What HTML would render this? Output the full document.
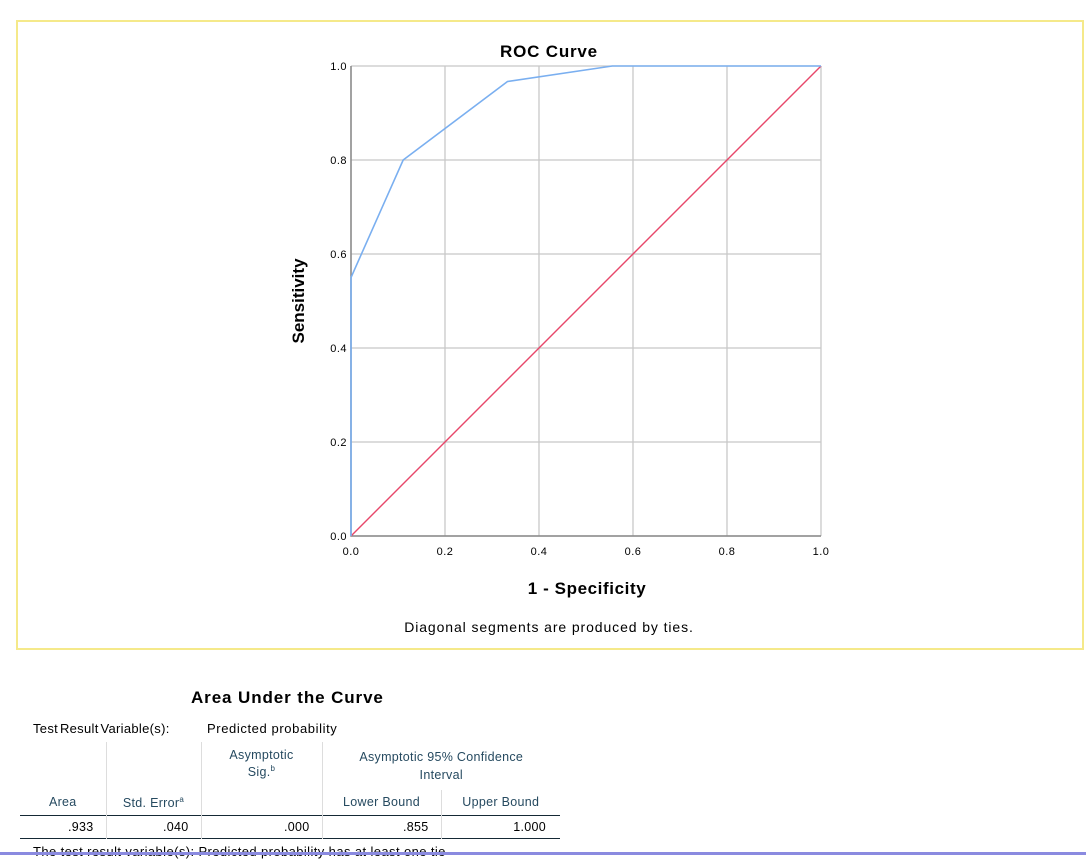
<!DOCTYPE html>
<html><head><meta charset="utf-8"><style>
body{margin:0;width:1086px;height:855px;background:#fff;font-family:"Liberation Sans",Arial,sans-serif;position:relative;overflow:hidden}
.frame{position:absolute;left:16px;top:20px;width:1064px;height:626px;border:2px solid #f5e98a;box-sizing:content-box}
table{border-collapse:collapse;font-size:12.5px;table-layout:fixed;letter-spacing:0.3px}
td{padding:0}
</style></head><body>
<div class="frame"></div>
<svg id="chart" width="1086" height="660" style="position:absolute;left:0;top:0">
<text x="549" y="57" text-anchor="middle" font-size="17" font-weight="bold" letter-spacing="0.8">ROC Curve</text>
<text x="587" y="594" text-anchor="middle" font-size="17" font-weight="bold" letter-spacing="0.6">1 - Specificity</text>
<text transform="translate(304,301) rotate(-90)" text-anchor="middle" font-size="17" font-weight="bold">Sensitivity</text>
<text x="549" y="632" text-anchor="middle" font-size="14" letter-spacing="0.9">Diagonal segments are produced by ties.</text>
<g id="grid"></g><g id="marks"></g>
</svg>
<div style="position:absolute;left:191px;top:688px;font-size:17px;font-weight:bold;letter-spacing:0.9px">Area Under the Curve</div>
<div style="position:absolute;left:33px;top:721px;font-size:13px;letter-spacing:0.3px;word-spacing:-2px">Test Result Variable(s):</div>
<div style="position:absolute;left:207px;top:721px;font-size:13px;letter-spacing:0.6px">Predicted probability</div>
<table style="position:absolute;left:20px;top:742px;width:540px;color:#264a60">
<colgroup><col style="width:86px"><col style="width:95px"><col style="width:121px"><col style="width:119px"><col style="width:119px"></colgroup>
<tr style="height:48px;vertical-align:top"><td style="border-right:1px solid #ddd"></td><td style="border-right:1px solid #ddd"></td><td style="text-align:center;border-right:1px solid #ddd;padding-top:6px;line-height:14px">Asymptotic<br>Sig.<sup style="font-size:8px">b</sup></td><td colspan="2" style="text-align:center;padding-top:6px;line-height:18px">Asymptotic 95% Confidence<br>Interval</td></tr>
<tr style="height:25px"><td style="text-align:center;border-right:1px solid #ddd">Area</td><td style="text-align:center;border-right:1px solid #ddd">Std. Error<sup style="font-size:8px">a</sup></td><td style="border-right:1px solid #ddd"></td><td style="text-align:center;border-right:1px solid #ddd">Lower Bound</td><td style="text-align:center">Upper Bound</td></tr>
<tr style="height:23px;color:#000;border-top:1px solid #152935;border-bottom:1px solid #152935"><td style="text-align:right;padding-right:12px;border-right:1px solid #ddd">.933</td><td style="text-align:right;padding-right:12px;border-right:1px solid #ddd">.040</td><td style="text-align:right;padding-right:12px;border-right:1px solid #ddd">.000</td><td style="text-align:right;padding-right:12px;border-right:1px solid #ddd">.855</td><td style="text-align:right;padding-right:14px">1.000</td></tr>
</table>
<div style="position:absolute;left:33px;top:844px;font-size:13px;letter-spacing:0.4px">The test result variable(s): Predicted probability has at least one tie</div>
<div style="position:absolute;left:0;top:852px;width:1086px;height:3px;background:#8a8ae0"></div>
<script>
const ticks=[0,0.2,0.4,0.6,0.8,1.0];
const tickLabels=["0.0","0.2","0.4","0.6","0.8","1.0"];
const rocX=[0,0,0.111,0.333,0.556,1];
const rocY=[0,0.55,0.8,0.967,1,1];
const refX=[0,1];const refY=[0,1];
const L=351,R=821,T=66,B=536;
const sx=v=>L+v*(R-L), sy=v=>B-v*(B-T);
const NS="http://www.w3.org/2000/svg";
const g=document.getElementById('grid'), m=document.getElementById('marks');
function mk(tag,at,p){const e=document.createElementNS(NS,tag);for(const k in at)e.setAttribute(k,at[k]);p.appendChild(e);return e;}
ticks.forEach((t,i)=>{
 const v=mk('line',{x1:sx(t),x2:sx(t),y1:T,y2:B,stroke:'#c8c8c8','stroke-width':1.3},g);
 
 
 const h=mk('line',{x1:L,x2:R,y1:sy(t),y2:sy(t),stroke:'#c8c8c8','stroke-width':1.3},g);
 
 
 const xl=mk('text',{x:sx(t),y:B+19,'text-anchor':'middle','font-size':11,'letter-spacing':0.5},g);xl.textContent=tickLabels[i];
 
 
 const yl=mk('text',{x:L-4,y:sy(t)+4,'text-anchor':'end','font-size':11,'letter-spacing':0.5},g);yl.textContent=tickLabels[i];
 
 
});
const ax=mk('path',{d:`M${L},${T}V${B}H${R}`,stroke:'#888',fill:'none','stroke-width':1.5},g);


const ref=mk('polyline',{points:refX.map((x,i)=>sx(x)+','+sy(refY[i])).join(' '),stroke:'#e8476a',fill:'none','stroke-width':1.4},m);


const roc=mk('polyline',{points:rocX.map((x,i)=>sx(x)+','+sy(rocY[i])).join(' '),stroke:'#7aaff0',fill:'none','stroke-width':1.6},m);


</script>
</body></html>
